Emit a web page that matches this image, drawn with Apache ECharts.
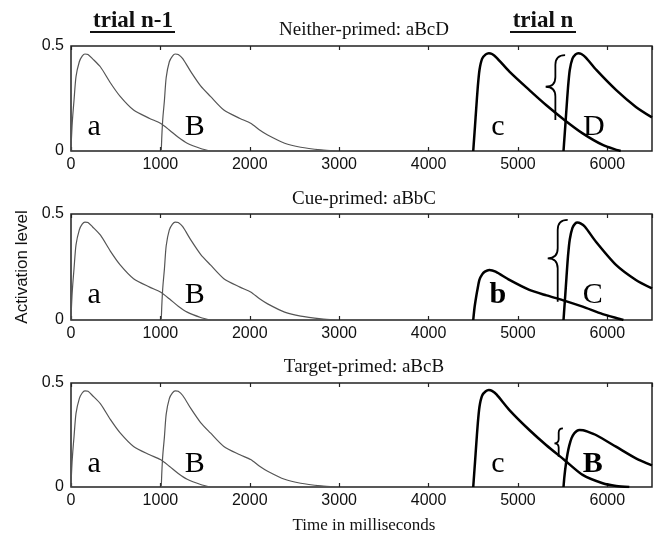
<!DOCTYPE html>
<html>
<head>
<meta charset="utf-8">
<script src="https://cdn.jsdelivr.net/npm/echarts@6/dist/echarts.min.js"></script>
<style>
html, body { margin: 0; padding: 0; background: #fff; }
#chart { width: 654px; height: 536px; }
</style>
</head>
<body>
<div id="chart"></div>
<script>
// panel titles
const panelTitles = ["Neither-primed: aBcD", "Cue-primed: aBbC", "Target-primed: aBcB"]
const timeMax = 6500

// trial n-1 (same in all panels): a and B
const aTime = [0, 5, 12, 20, 34, 56, 93, 125, 156, 190, 240, 330, 440, 550, 700, 880, 1000, 1100, 1200, 1300, 1450, 1560]
const aAct = [0, 0.06, 0.12, 0.17, 0.243, 0.354, 0.425, 0.452, 0.462, 0.46, 0.44, 0.4, 0.325, 0.26, 0.195, 0.155, 0.132, 0.1, 0.065, 0.037, 0.012, 0]
const bTime = [1010, 1015, 1022, 1030, 1045, 1065, 1100, 1135, 1165, 1200, 1250, 1340, 1450, 1560, 1710, 1890, 2010, 2110, 2200, 2390, 2570, 2800, 2950]
const bAct = [0, 0.06, 0.12, 0.17, 0.24, 0.35, 0.425, 0.452, 0.462, 0.46, 0.44, 0.378, 0.31, 0.26, 0.195, 0.155, 0.132, 0.1, 0.076, 0.037, 0.018, 0.005, 0]

// trial n, panel 1 (c, D)
const c1Time = [4500, 4510, 4520, 4533, 4550, 4570, 4600, 4640, 4675, 4710, 4760, 4905, 5128, 5315, 5520, 5724, 5948, 6115, 6150]
const c1Act = [0, 0.06, 0.12, 0.2, 0.3, 0.386, 0.44, 0.46, 0.466, 0.462, 0.445, 0.378, 0.29, 0.219, 0.148, 0.084, 0.029, 0.004, 0]
const d1Time = [5510, 5520, 5530, 5543, 5560, 5580, 5610, 5645, 5675, 5710, 5760, 5880, 6100, 6320, 6500]
const d1Act = [0, 0.06, 0.12, 0.2, 0.3, 0.386, 0.44, 0.46, 0.466, 0.462, 0.445, 0.385, 0.29, 0.21, 0.16]

// trial n, panel 2 (b, C)
const b2Time = [4500, 4515, 4533, 4550, 4570, 4600, 4630, 4680, 4750, 4905, 5128, 5320, 5500, 5724, 5948, 6140, 6180]
const b2Act = [0, 0.06, 0.11, 0.15, 0.19, 0.215, 0.228, 0.236, 0.228, 0.189, 0.142, 0.116, 0.094, 0.063, 0.028, 0.005, 0]
const C2Time = [5510, 5520, 5530, 5543, 5560, 5580, 5610, 5640, 5665, 5700, 5750, 5873, 6097, 6320, 6500]
const C2Act = [0, 0.06, 0.12, 0.2, 0.3, 0.38, 0.435, 0.455, 0.46, 0.456, 0.44, 0.369, 0.26, 0.189, 0.149]

// trial n, panel 3 (c, B)
const c3Time = [4500, 4510, 4520, 4533, 4550, 4570, 4600, 4640, 4675, 4710, 4760, 4905, 5128, 5315, 5520, 5724, 5948, 6100, 6246]
const c3Act = [0, 0.06, 0.12, 0.2, 0.3, 0.386, 0.44, 0.46, 0.466, 0.462, 0.445, 0.37, 0.274, 0.202, 0.13, 0.058, 0.018, 0.005, 0]
const B3Time = [5510, 5520, 5538, 5555, 5575, 5600, 5631, 5660, 5690, 5730, 5780, 5873, 6097, 6320, 6500]
const B3Act = [0, 0.05, 0.114, 0.16, 0.2, 0.235, 0.258, 0.27, 0.274, 0.273, 0.266, 0.25, 0.194, 0.138, 0.104]

// letters in each panel
const letterText = [["a", "B", "c", "D"], ["a", "B", "b", "C"], ["a", "B", "c", "B"]]
const letterTime = [[260, 1385, 4775, 5850], [260, 1385, 4775, 5836], [260, 1385, 4775, 5836]]
const letterAct = [[0.114, 0.114, 0.114, 0.114], [0.116, 0.116, 0.116, 0.116], [0.11, 0.11, 0.11, 0.11]]
const letterBold = [[false, false, false, false], [false, false, true, false], [false, false, false, true]]

// braces: stem time, top, middle, bottom
const braceTime = [5419, 5445, 5456]
const braceTop = [0.457, 0.472, 0.282]
const braceMid = [0.306, 0.291, 0.21]
const braceBottom = [0.148, 0.086, 0.146]

const pairs = (xs, ys) => xs.map((x, i) => [x, ys[i]])
const oldCurves = [[pairs(aTime, aAct), pairs(bTime, bAct)], [pairs(aTime, aAct), pairs(bTime, bAct)], [pairs(aTime, aAct), pairs(bTime, bAct)]]
const newCurves = [[pairs(c1Time, c1Act), pairs(d1Time, d1Act)], [pairs(b2Time, b2Act), pairs(C2Time, C2Act)], [pairs(c3Time, c3Act), pairs(B3Time, B3Act)]]

const serif = "'Liberation Serif', 'Times New Roman', serif"
const tickFont = "'Liberation Sans', Arial, sans-serif"
const gridTops = [46, 214, 383]
const gridHeights = [105, 106, 104]
const titleTops = [16, 185, 353]

const grids = [], xAxes = [], yAxes = [], series = [], titles = []
for (let p = 0; p < 3; p++) {
  grids.push({ left: 71, top: gridTops[p], width: 581, height: gridHeights[p], show: true, borderColor: "#222", borderWidth: 1.5, backgroundColor: "transparent" })
  titles.push({ text: panelTitles[p], left: 359, top: titleTops[p], textAlign: "center", textStyle: { fontFamily: serif, fontSize: 19, fontWeight: "normal", color: "#111" } })
  xAxes.push({
    gridIndex: p, type: "value", min: 0, max: timeMax, interval: 1000,
    axisLine: { show: false }, splitLine: { show: false },
    axisTick: { inside: true, length: 4, lineStyle: { color: "#222", width: 1.2 } },
    axisLabel: { showMaxLabel: false, margin: 6, fontFamily: tickFont, fontSize: 16, color: "#111", formatter: v => String(v) }
  })
  xAxes.push({
    gridIndex: p, type: "value", position: "top", min: 0, max: timeMax, interval: 1000,
    axisLine: { show: false }, splitLine: { show: false }, axisLabel: { show: false },
    axisTick: { inside: true, length: 4, lineStyle: { color: "#222", width: 1.2 } }
  })
  yAxes.push({
    gridIndex: p, type: "value", min: 0, max: 0.5, interval: 0.5,
    axisLine: { show: false }, splitLine: { show: false }, axisTick: { show: false },
    axisLabel: { margin: 7, fontFamily: tickFont, fontSize: 16, color: "#111" }
  })
  oldCurves[p].forEach(d => series.push({
    type: "line", xAxisIndex: p * 2, yAxisIndex: p, data: d, symbol: "none",
    smooth: 0.25, lineStyle: { color: "#555", width: 1.2 }
  }))
  newCurves[p].forEach(d => series.push({
    type: "line", xAxisIndex: p * 2, yAxisIndex: p, data: d, symbol: "none",
    smooth: 0.25, lineStyle: { color: "#000", width: 2.5, join: "round" }
  }))
  // curly brace between the two trial n curves
  series.push({
    type: "custom", xAxisIndex: p * 2, yAxisIndex: p,
    data: [[braceTime[p], braceTop[p], braceMid[p], braceBottom[p]]],
    renderItem: function (params, api) {
      const top = api.coord([api.value(0), api.value(1)])
      const mid = api.coord([api.value(0), api.value(2)])
      const bot = api.coord([api.value(0), api.value(3)])
      const sx = top[0]
      const w = Math.min(10, (bot[1] - top[1]) * 0.15)
      const r = w
      const path = `M${sx + w},${top[1]} Q${sx},${top[1]} ${sx},${top[1] + r} L${sx},${mid[1] - r} Q${sx},${mid[1]} ${sx - w},${mid[1]} Q${sx},${mid[1]} ${sx},${mid[1] + r} L${sx},${bot[1]}`
      return { type: "path", shape: { pathData: path }, style: { fill: "none", stroke: "#000", lineWidth: 1.8 } }
    }
  })
  // letter labels
  series.push({
    type: "custom", xAxisIndex: p * 2, yAxisIndex: p,
    data: letterText[p].map((t, i) => [letterTime[p][i], letterAct[p][i], i]),
    renderItem: function (params, api) {
      const i = api.value(2)
      const pt = api.coord([api.value(0), api.value(1)])
      return {
        type: "text", x: pt[0], y: pt[1],
        style: { text: letterText[p][i], align: "center", verticalAlign: "middle", fill: "#000",
          font: (letterBold[p][i] ? "bold " : "") + "30px " + serif }
      }
    }
  })
}

const chart = echarts.init(document.getElementById("chart"))
chart.setOption({
  animation: false,
  title: titles,
  grid: grids,
  xAxis: xAxes,
  yAxis: yAxes,
  series: series,
  graphic: [
    { type: "text", x: 133, y: 21, style: { text: "trial n-1", font: "bold 23px " + serif, align: "center", verticalAlign: "middle", fill: "#111" } },
    { type: "line", shape: { x1: 90, y1: 32, x2: 175, y2: 32 }, style: { stroke: "#111", lineWidth: 2 } },
    { type: "text", x: 543, y: 21, style: { text: "trial n", font: "bold 23px " + serif, align: "center", verticalAlign: "middle", fill: "#111" } },
    { type: "line", shape: { x1: 510, y1: 32, x2: 576, y2: 32 }, style: { stroke: "#111", lineWidth: 2 } },
    { type: "text", x: 22, y: 267, rotation: Math.PI / 2, style: { text: "Activation level", font: "17px 'Liberation Sans', sans-serif", align: "center", verticalAlign: "middle", fill: "#111" } },
    { type: "text", x: 364, y: 526, style: { text: "Time in milliseconds", font: "17px " + serif, align: "center", verticalAlign: "middle", fill: "#111" } }
  ]
})
</script>
</body>
</html>
